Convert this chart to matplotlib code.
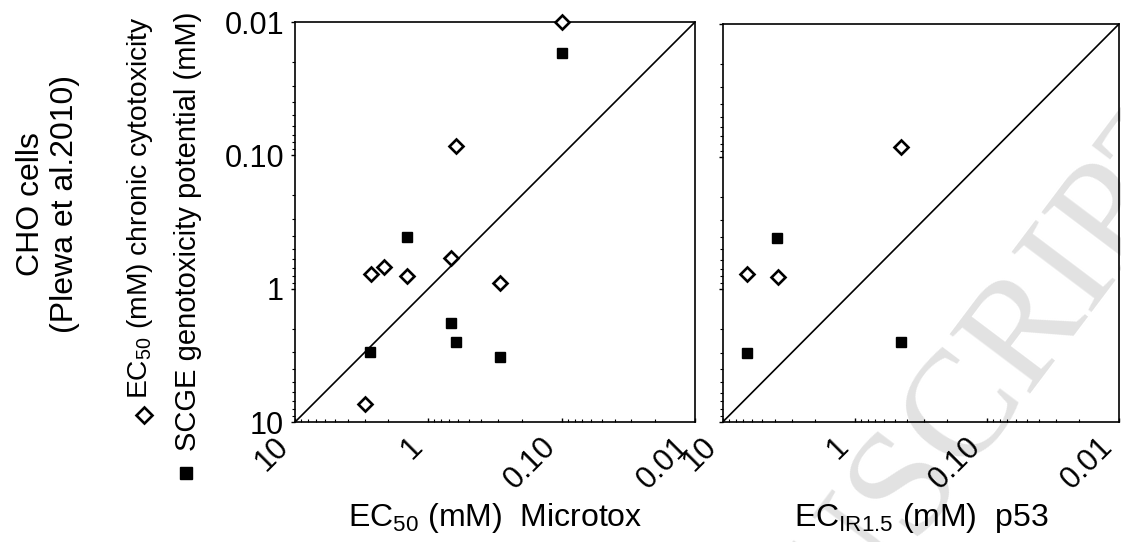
import matplotlib
matplotlib.use("Agg")
import matplotlib.pyplot as plt
from matplotlib.lines import Line2D
from matplotlib.ticker import FixedLocator, LogLocator, NullFormatter

plt.rcParams["font.family"] = ["Liberation Sans", "DejaVu Sans"]
plt.rcParams["mathtext.fontset"] = "custom"
plt.rcParams["mathtext.rm"] = "Liberation Sans"
plt.rcParams["mathtext.it"] = "Liberation Sans:italic"

# left panel: Microtox EC50 vs CHO cells
micro_cyto_x = [0.10, 0.62, 2.71, 2.15, 1.45, 0.68, 0.29, 2.98]
micro_cyto_y = [0.010, 0.085, 0.78, 0.69, 0.81, 0.59, 0.90, 7.3]
micro_geno_x = [0.10, 1.44, 0.68, 0.62, 0.29, 2.74]
micro_geno_y = [0.017, 0.41, 1.82, 2.52, 3.24, 2.97]

# right panel: p53 EC_IR1.5 vs CHO cells
p53_cyto_x = [0.45, 6.5, 3.84]
p53_cyto_y = [0.085, 0.77, 0.81]
p53_geno_x = [3.87, 6.5, 0.45]
p53_geno_y = [0.41, 3.03, 2.5]

tick_vals = [10, 1, 0.1, 0.01]
tick_labels = ["10", "1", "0.10", "0.01"]
lims = (10, 0.01)

fig = plt.figure(figsize=(11.21, 5.42), dpi=100)

# faint watermark behind everything
fig.text(1.068, 0.795, "ACCEPTED MANUSCRIPT", family="Liberation Serif",
         fontsize=110, color="#e2e2e2", rotation=53, rotation_mode="anchor",
         ha="right", va="center", zorder=-5)

ax1 = fig.add_axes([0.2632, 0.2214, 0.3568, 0.738])
ax2 = fig.add_axes([0.6447, 0.2214, 0.3535, 0.7343])


def style(ax, show_ylabels):
    ax.set_facecolor("none")
    ax.set_xscale("log")
    ax.set_yscale("log")
    ax.set_xlim(*lims)
    ax.set_ylim(*lims)
    ax.plot(lims, lims, color="black", lw=1.2, zorder=2)
    for sp in ax.spines.values():
        sp.set_linewidth(1.2)
    ax.xaxis.set_major_locator(FixedLocator(tick_vals))
    ax.yaxis.set_major_locator(FixedLocator(tick_vals))
    ax.xaxis.set_minor_locator(LogLocator(base=10, subs=range(2, 10)))
    ax.yaxis.set_minor_locator(LogLocator(base=10, subs=range(2, 10)))
    ax.xaxis.set_minor_formatter(NullFormatter())
    ax.yaxis.set_minor_formatter(NullFormatter())
    ax.set_xticklabels(tick_labels, rotation=45, ha="right", va="top")
    if show_ylabels:
        ax.set_yticklabels(tick_labels)
    else:
        ax.set_yticklabels([])
    ax.tick_params(axis="x", which="major", direction="in", length=3, width=1,
                   labelsize=22, pad=7)
    ax.tick_params(axis="x", which="minor", direction="in", length=2.2, width=0.8)
    ax.tick_params(axis="y", which="major", direction="out", length=3, width=1,
                   labelsize=22, pad=5)
    ax.tick_params(axis="y", which="minor", direction="out", length=2.2, width=0.8)


style(ax1, True)
style(ax2, False)

ax1.plot(micro_cyto_x, micro_cyto_y, "D", ms=7.2, mfc="white", mec="black",
         mew=1.9, clip_on=False, zorder=3)
ax1.plot(micro_geno_x, micro_geno_y, "s", ms=7.3, color="black", clip_on=False, zorder=3)
ax2.plot(p53_cyto_x, p53_cyto_y, "D", ms=7.2, mfc="white", mec="black",
         mew=1.9, clip_on=False, zorder=3)
ax2.plot(p53_geno_x, p53_geno_y, "s", ms=7.3, color="black", clip_on=False, zorder=3)

ax1.set_xlabel("EC$_{50}$ (mM)  Microtox", fontsize=23, labelpad=4)
ax2.set_xlabel("EC$_{\\mathrm{IR1.5}}$ (mM)  p53", fontsize=23, labelpad=4)

# left-hand descriptive labels and key
fig.text(0.0428, 0.6236, "CHO cells\n(Plewa et al.2010)", rotation=90,
         fontsize=23, ha="center", va="center", multialignment="center",
         linespacing=1.2)
fig.text(0.125, 1 - 16 / 542, "EC$_{50}$ (mM) chronic cytotoxicity", rotation=90,
         fontsize=20.3, ha="center", va="top")
fig.text(0.168, 1 - 12 / 542, "SCGE genotoxicity potential (mM)", rotation=90,
         fontsize=21, ha="center", va="top")
fig.add_artist(Line2D([0.1285], [0.2343], marker="D", ms=8, mfc="white",
                      mec="black", mew=1.9, transform=fig.transFigure))
fig.add_artist(Line2D([0.166], [0.1273], marker="s", ms=8.5, color="black",
                      transform=fig.transFigure))

fig.savefig("out.png", dpi=100)
